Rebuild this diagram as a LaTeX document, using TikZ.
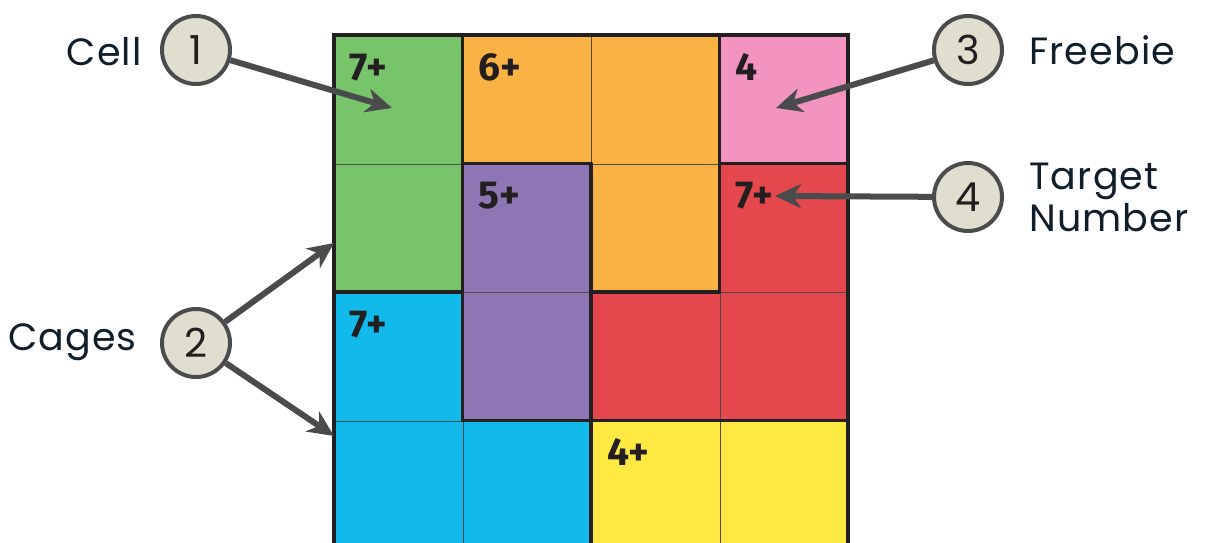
\documentclass[tikz,border=0pt]{standalone}
\usepackage{fontspec}
\setmainfont{Poppins}[LetterSpace=3]
\newfontfamily\numfont{Fira Sans}
\newfontfamily\bubfont{Poppins}
\usetikzlibrary{arrows.meta}
\definecolor{cgreen}{HTML}{78C46B}
\definecolor{corange}{HTML}{FBB245}
\definecolor{cpink}{HTML}{F393BF}
\definecolor{cred}{HTML}{E5484C}
\definecolor{cpurple}{HTML}{8E75B3}
\definecolor{cblue}{HTML}{12BAEC}
\definecolor{cyellow}{HTML}{FEE942}
\definecolor{edge}{HTML}{231F20}
\definecolor{arr}{HTML}{4A4B4D}
\definecolor{bubble}{HTML}{DFDECF}
\definecolor{txt}{HTML}{0F1E2A}
\tikzset{
  cellbox/.style={draw=edge!80, line width=1.2pt, minimum size=128.5pt, inner sep=0pt, anchor=north west},
  cagewall/.style={draw=edge, line width=3.5pt, line cap=round},
  target/.style={font=\numfont\bfseries\fontsize{39}{39}\selectfont, text=edge, anchor=base west, inner sep=0pt},
  bubblenode/.style={circle, draw=arr, fill=bubble, line width=4pt, minimum size=68pt, inner sep=0pt, font=\bubfont\fontsize{40}{40}\selectfont, text=edge},
  pointer/.style={draw=arr, line width=6pt, -{Stealth[length=26pt,width=24pt,inset=8pt]}},
  caption/.style={font=\fontsize{38}{42}\selectfont, text=txt, inner sep=0pt, align=left}
}
\begin{document}
\begin{tikzpicture}[x=1pt,y=-1pt]
\useasboundingbox (0,0) rectangle (1212,542);
\begin{scope}
\clip (0,0) rectangle (1212,542);
% cells
\node[cellbox, fill=cgreen]   (c00) at (334,35) {};
\node[cellbox, fill=corange]  (c01) at (462.5,35) {};
\node[cellbox, fill=corange]  (c02) at (591,35) {};
\node[cellbox, fill=cpink]    (c03) at (719.5,35) {};
\node[cellbox, fill=cgreen]   (c10) at (334,163.5) {};
\node[cellbox, fill=cpurple]  (c11) at (462.5,163.5) {};
\node[cellbox, fill=corange]  (c12) at (591,163.5) {};
\node[cellbox, fill=cred]     (c13) at (719.5,163.5) {};
\node[cellbox, fill=cblue]    (c20) at (334,292) {};
\node[cellbox, fill=cpurple]  (c21) at (462.5,292) {};
\node[cellbox, fill=cred]     (c22) at (591,292) {};
\node[cellbox, fill=cred]     (c23) at (719.5,292) {};
\node[cellbox, fill=cblue]    (c30) at (334,420.5) {};
\node[cellbox, fill=cblue]    (c31) at (462.5,420.5) {};
\node[cellbox, fill=cyellow]  (c32) at (591,420.5) {};
\node[cellbox, fill=cyellow]  (c33) at (719.5,420.5) {};
% cage walls
\draw[cagewall] (334,35) rectangle (848,549);
\draw[cagewall] (462.5,35) -- (462.5,420.5);
\draw[cagewall] (591,163.5) -- (591,549);
\draw[cagewall] (719.5,35) -- (719.5,292);
\draw[cagewall] (462.5,163.5) -- (591,163.5);
\draw[cagewall] (719.5,163.5) -- (848,163.5);
\draw[cagewall] (334,292) -- (462.5,292);
\draw[cagewall] (591,292) -- (719.5,292);
\draw[cagewall] (462.5,420.5) -- (848,420.5);
\end{scope}
% target numbers
\node[target] (t00) at ([xshift=15pt,yshift=-45pt]c00.north west) {7+};
\node[target] (t01) at ([xshift=16pt,yshift=-45pt]c01.north west) {6+};
\node[target] (t03) at ([xshift=16pt,yshift=-45pt]c03.north west) {4};
\node[target] (t11) at ([xshift=16pt,yshift=-45pt]c11.north west) {5+};
\node[target] (t13) at ([xshift=16pt,yshift=-45pt]c13.north west) {7+};
\node[target] (t20) at ([xshift=15pt,yshift=-45pt]c20.north west) {7+};
\node[target] (t32) at ([xshift=16pt,yshift=-45pt]c32.north west) {4+};
% bubbles
\node[bubblenode] (b1) at (196,50) {1};
\node[bubblenode] (b2) at (196,343) {2};
\node[bubblenode] (b3) at (968,50) {3};
\node[bubblenode] (b4) at (968,197) {4};
% captions
\node[caption, anchor=east] (l1) at (142,52) {Cell};
\node[caption, anchor=east] (l2) at (137,342) {Cages};
\node[caption, anchor=west] (l3) at (1029,50) {Freebie};
\node[caption, anchor=west] (l4) at (1029,197) {Target\\Number};
% pointer targets
\coordinate (p1) at (392,108);
\coordinate (p2a) at (334,243);
\coordinate (p2b) at (334,436);
\coordinate (p3) at (776,108);
\coordinate (p4) at (775,196);
\draw[pointer] (b1) -- (p1);
\draw[pointer] (b2) -- (p2a);
\draw[pointer] (b2) -- (p2b);
\draw[pointer] (b3) -- (p3);
\draw[pointer] (b4) -- (p4);
\end{tikzpicture}
\end{document}
